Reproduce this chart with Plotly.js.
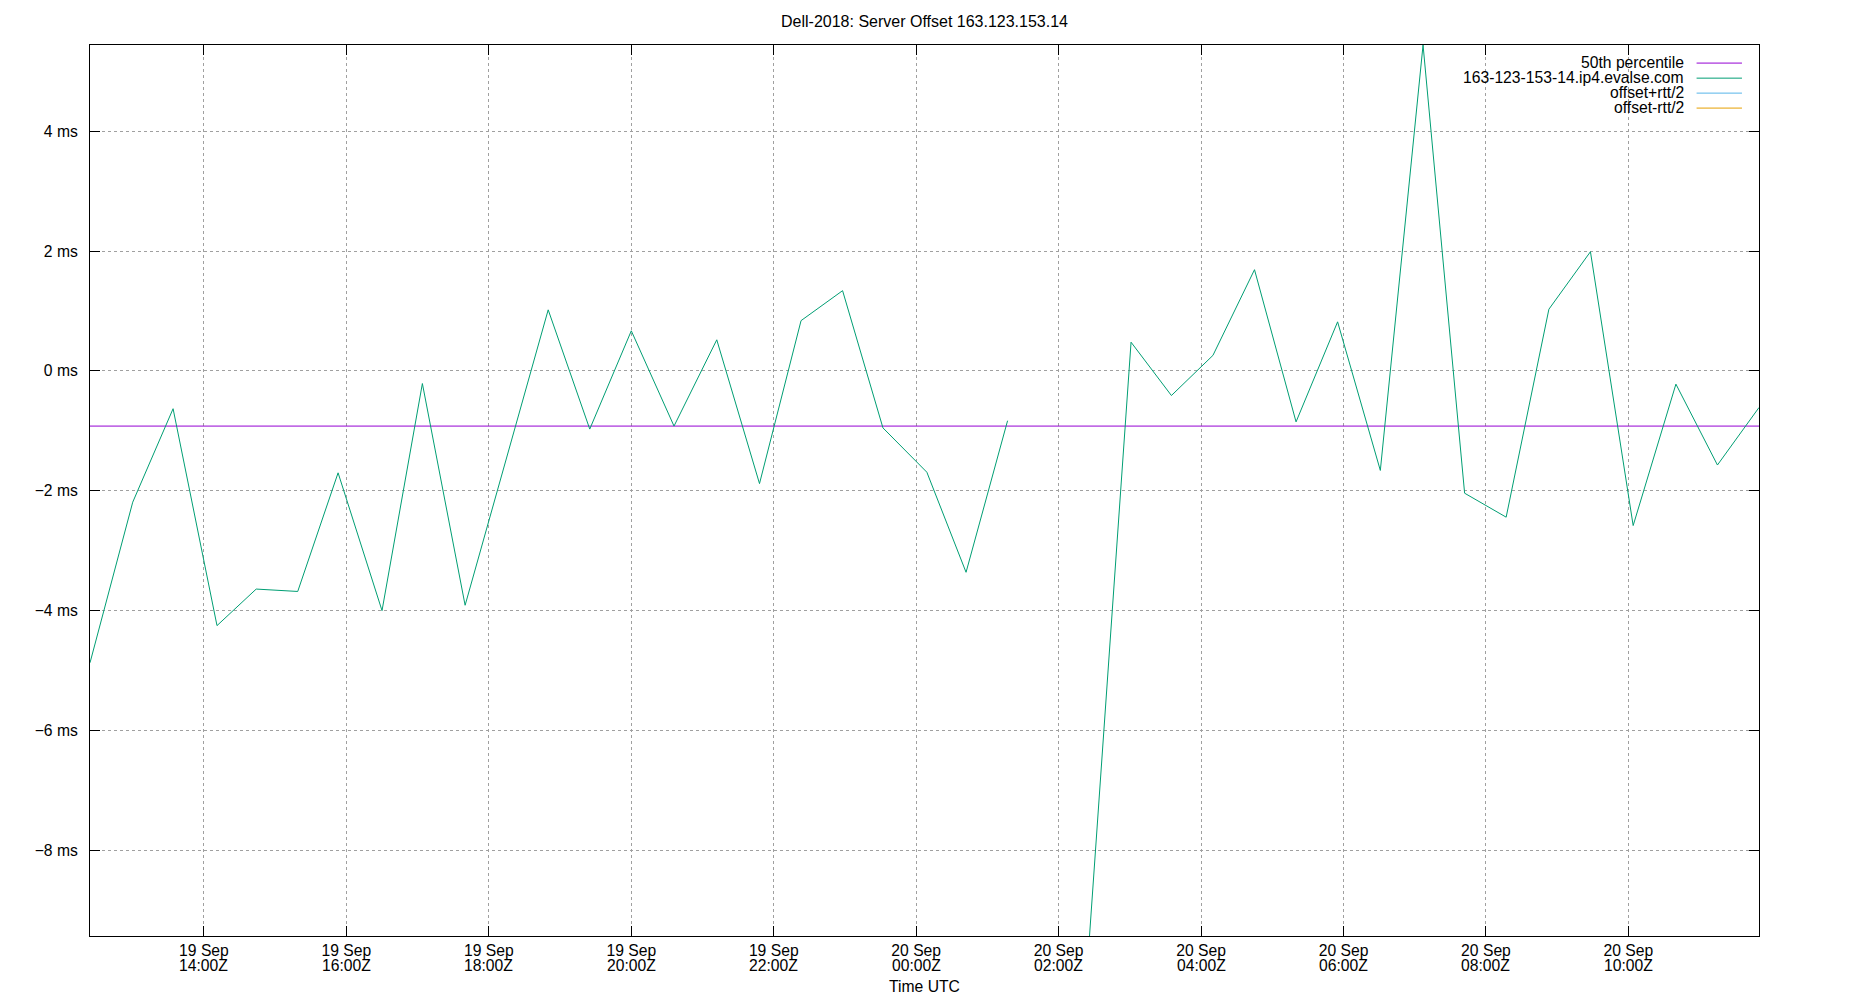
<!DOCTYPE html>
<html>
<head>
<meta charset="utf-8">
<script src="https://cdn.plot.ly/plotly-3.0.1.min.js"></script>
<style>
  body { margin: 0; background: #fff; }
  #chart { width: 1850px; height: 1000px; }
</style>
</head>
<body>
<div id="chart"></div>
<script>
// sample times (UTC) and measured offset in ms; null = no sample
const times = [
    "2018-09-19 12:24", "2018-09-19 13:00", "2018-09-19 13:34", "2018-09-19 14:11",
    "2018-09-19 14:44", "2018-09-19 15:19", "2018-09-19 15:53", "2018-09-19 16:30",
    "2018-09-19 17:04", "2018-09-19 17:40", "2018-09-19 18:50", "2018-09-19 19:25",
    "2018-09-19 20:00", "2018-09-19 20:36", "2018-09-19 21:12", "2018-09-19 21:48",
    "2018-09-19 22:23", "2018-09-19 22:58", "2018-09-19 23:32", "2018-09-20 00:09",
    "2018-09-20 00:42", "2018-09-20 01:17", "2018-09-20 01:52", "2018-09-20 02:26",
    "2018-09-20 03:01", "2018-09-20 03:35", "2018-09-20 04:10", "2018-09-20 04:45",
    "2018-09-20 05:20", "2018-09-20 05:55", "2018-09-20 06:31", "2018-09-20 07:07",
    "2018-09-20 07:42", "2018-09-20 08:17", "2018-09-20 08:53", "2018-09-20 09:28",
    "2018-09-20 10:04", "2018-09-20 10:40", "2018-09-20 11:15", "2018-09-20 11:50"
];
const offsets = [
    -4.87, -2.19, -0.63, -4.25,
    -3.64, -3.68, -1.70, -4.00,
    -0.21, -3.91,  1.02, -0.97,
     0.67, -0.92,  0.52, -1.88,
     0.84,  1.34, -0.95, -1.69,
    -3.36, -0.83,  null, -9.43,
     0.48, -0.41,  0.26,  1.69,
    -0.85,  0.82, -1.66,  5.44,
    -2.04, -2.44,  1.03,  1.99,
    -2.58, -0.22, -1.57, -0.61
];
const median = -0.92;

const tickTimes = [
    "2018-09-19 14:00", "2018-09-19 16:00", "2018-09-19 18:00", "2018-09-19 20:00",
    "2018-09-19 22:00", "2018-09-20 00:00", "2018-09-20 02:00", "2018-09-20 04:00",
    "2018-09-20 06:00", "2018-09-20 08:00", "2018-09-20 10:00"
];
const tickDays = ["19 Sep", "19 Sep", "19 Sep", "19 Sep", "19 Sep",
                  "20 Sep", "20 Sep", "20 Sep", "20 Sep", "20 Sep", "20 Sep"];
const tickHours = ["14:00Z", "16:00Z", "18:00Z", "20:00Z", "22:00Z",
                   "00:00Z", "02:00Z", "04:00Z", "06:00Z", "08:00Z", "10:00Z"];

const legendNames = ["50th percentile", "163-123-153-14.ip4.evalse.com", "offset+rtt/2", "offset-rtt/2"];
const legendColors = ["#9400d3", "#009e73", "#56b4e9", "#e69f00"];

const FONT = "Liberation Sans, Arial, sans-serif";
const textFont = { family: FONT, size: 15.7, color: "#000" };
const valid = offsets.filter(v => v !== null);

const data = [
    {
        x: [times[0], times[times.length - 1]],
        y: [median, median],
        type: "scatter", mode: "lines",
        line: { color: legendColors[0], width: 1 },
        name: legendNames[0], hoverinfo: "skip"
    },
    {
        x: times, y: offsets,
        type: "scatter", mode: "lines", connectgaps: false,
        line: { color: legendColors[1], width: 1 },
        name: legendNames[1]
    },
    { x: [], y: [], type: "scatter", mode: "lines", line: { color: legendColors[2], width: 1 }, name: legendNames[2] },
    { x: [], y: [], type: "scatter", mode: "lines", line: { color: legendColors[3], width: 1 }, name: legendNames[3] }
];

// gnuplot style key: right aligned text with the line sample after it
const rowY = [0.9805, 0.9636, 0.9468, 0.9300];
const annotations = legendNames.map((n, i) => ({
    xref: "paper", yref: "paper", x: 0.9563, y: rowY[i],
    xanchor: "right", yanchor: "middle", showarrow: false,
    text: n, font: textFont
}));

// second line of the time tick labels (tight gnuplot line spacing)
tickTimes.forEach((t, i) => annotations.push({
    xref: "x", yref: "paper", x: t, y: 0, yshift: -29,
    xanchor: "center", yanchor: "middle", showarrow: false,
    text: tickHours[i], font: textFont
}));

annotations.push({
    xref: "paper", yref: "paper", x: 0.5, y: 0, yshift: -50,
    xanchor: "center", yanchor: "middle", showarrow: false,
    text: "Time UTC", font: textFont
});
annotations.push({
    xref: "paper", yref: "paper", x: 0.5, y: 1, yshift: 24,
    xanchor: "center", yanchor: "middle", showarrow: false,
    text: "Dell-2018: Server Offset 163.123.153.14",
    font: { family: FONT, size: 16, color: "#000" }
});

const shapes = [{
    type: "rect", xref: "paper", yref: "paper",
    x0: 0.818, x1: 1, y0: 0.9226, y1: 1,
    fillcolor: "#fff", line: { width: 0 }, layer: "between"
}];
legendColors.forEach((c, i) => shapes.push({
    type: "line", xref: "paper", yref: "paper",
    x0: 0.9626, x1: 0.9898, y0: rowY[i] - 0.0008, y1: rowY[i] - 0.0008,
    line: { color: c, width: 1 }
}));

const axisCommon = {
    showline: true, linecolor: "#000", linewidth: 1, mirror: "allticks",
    ticks: "inside", ticklen: 10, tickcolor: "#000", tickwidth: 1,
    showgrid: true, gridcolor: "#a0a0a0", griddash: "dot", gridwidth: 1,
    zeroline: false,
    tickfont: textFont
};

const layout = {
    width: 1850, height: 1000,
    margin: { l: 90, r: 91, t: 45, b: 64 },
    paper_bgcolor: "#fff", plot_bgcolor: "#fff",
    showlegend: false,
    font: textFont,
    xaxis: Object.assign({}, axisCommon, {
        type: "date",
        range: [times[0], times[times.length - 1]],
        tickmode: "array", tickvals: tickTimes, ticktext: tickDays,
        ticklabelstandoff: 0
    }),
    yaxis: Object.assign({}, axisCommon, {
        range: [Math.min(...valid), Math.max(...valid)],
        tickmode: "linear", tick0: 0, dtick: 2, ticksuffix: " ms",
        ticklabelstandoff: 8
    }),
    annotations: annotations,
    shapes: shapes
};

Plotly.newPlot("chart", data, layout, { displayModeBar: false, staticPlot: true });
</script>
</body>
</html>
